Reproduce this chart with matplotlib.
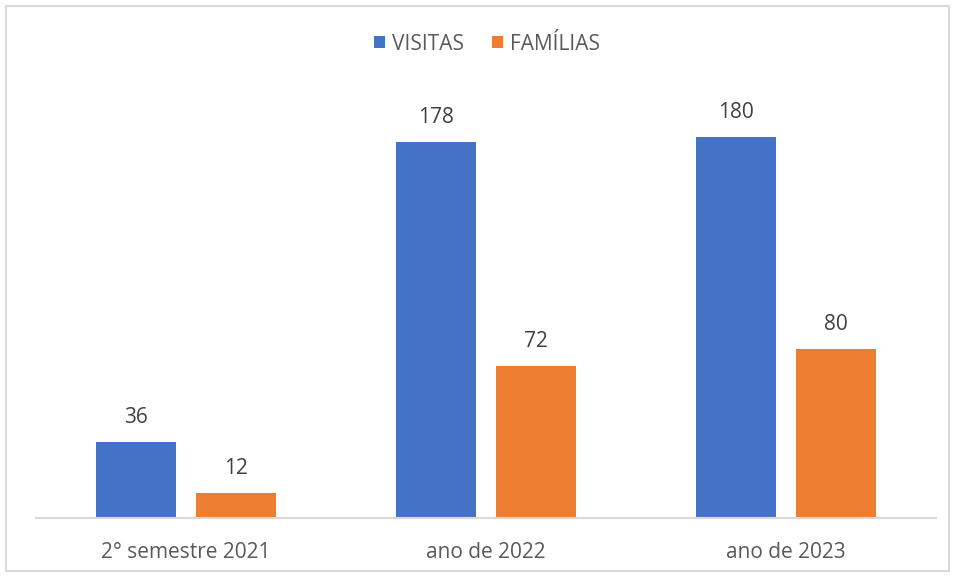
import matplotlib.pyplot as plt
import numpy as np
from matplotlib.patches import Rectangle

plt.rcParams['font.family'] = ['Open Sans', 'DejaVu Sans']

categorias = ["2° semestre 2021", "ano de 2022", "ano de 2023"]
visitas = [36, 178, 180]
familias = [12, 72, 80]

azul = "#4472C4"
laranja = "#ED7D31"
cinza = "#595959"

fig = plt.figure(figsize=(9.55, 5.77), dpi=100)
ax = fig.add_axes([36/955, 1 - 518/577, 900/955, 423/577])

x = np.arange(len(categorias))
w = 80/300
off = 50/300
b1 = ax.bar(x - off, visitas, w, color=azul, label="VISITAS")
b2 = ax.bar(x + off, familias, w, color=laranja, label="FAMÍLIAS")

for bars in (b1, b2):
    for r in bars:
        ax.annotate(str(int(r.get_height())), (r.get_x() + r.get_width()/2, r.get_height()),
                    xytext=(0, 10), textcoords="offset points", ha="center", va="bottom",
                    fontsize=15, color="#404040")

ax.set_xlim(-0.5, 2.5)
ax.set_ylim(0, 200)
ax.set_xticks(x)
ax.set_xticklabels(categorias, fontsize=15, color=cinza)
ax.tick_params(axis="x", length=0, pad=17)
ax.set_yticks([])
for s in ["top", "right", "left"]:
    ax.spines[s].set_visible(False)
ax.spines["bottom"].set_color("#D9D9D9")
ax.spines["bottom"].set_linewidth(1.5)

fig.legend(loc="center", bbox_to_anchor=(487/955, 1 - 44/577), ncol=2, frameon=False,
           fontsize=15, labelcolor=cinza, handlelength=0.55, handleheight=0.55,
           handletextpad=0.35, columnspacing=1.3)

fig.patches.append(Rectangle((6/955, 6/577), 943/955, 565/577, transform=fig.transFigure,
                             fill=False, edgecolor="#D9D9D9", linewidth=1.5))

fig.savefig("out.png", dpi=100)
